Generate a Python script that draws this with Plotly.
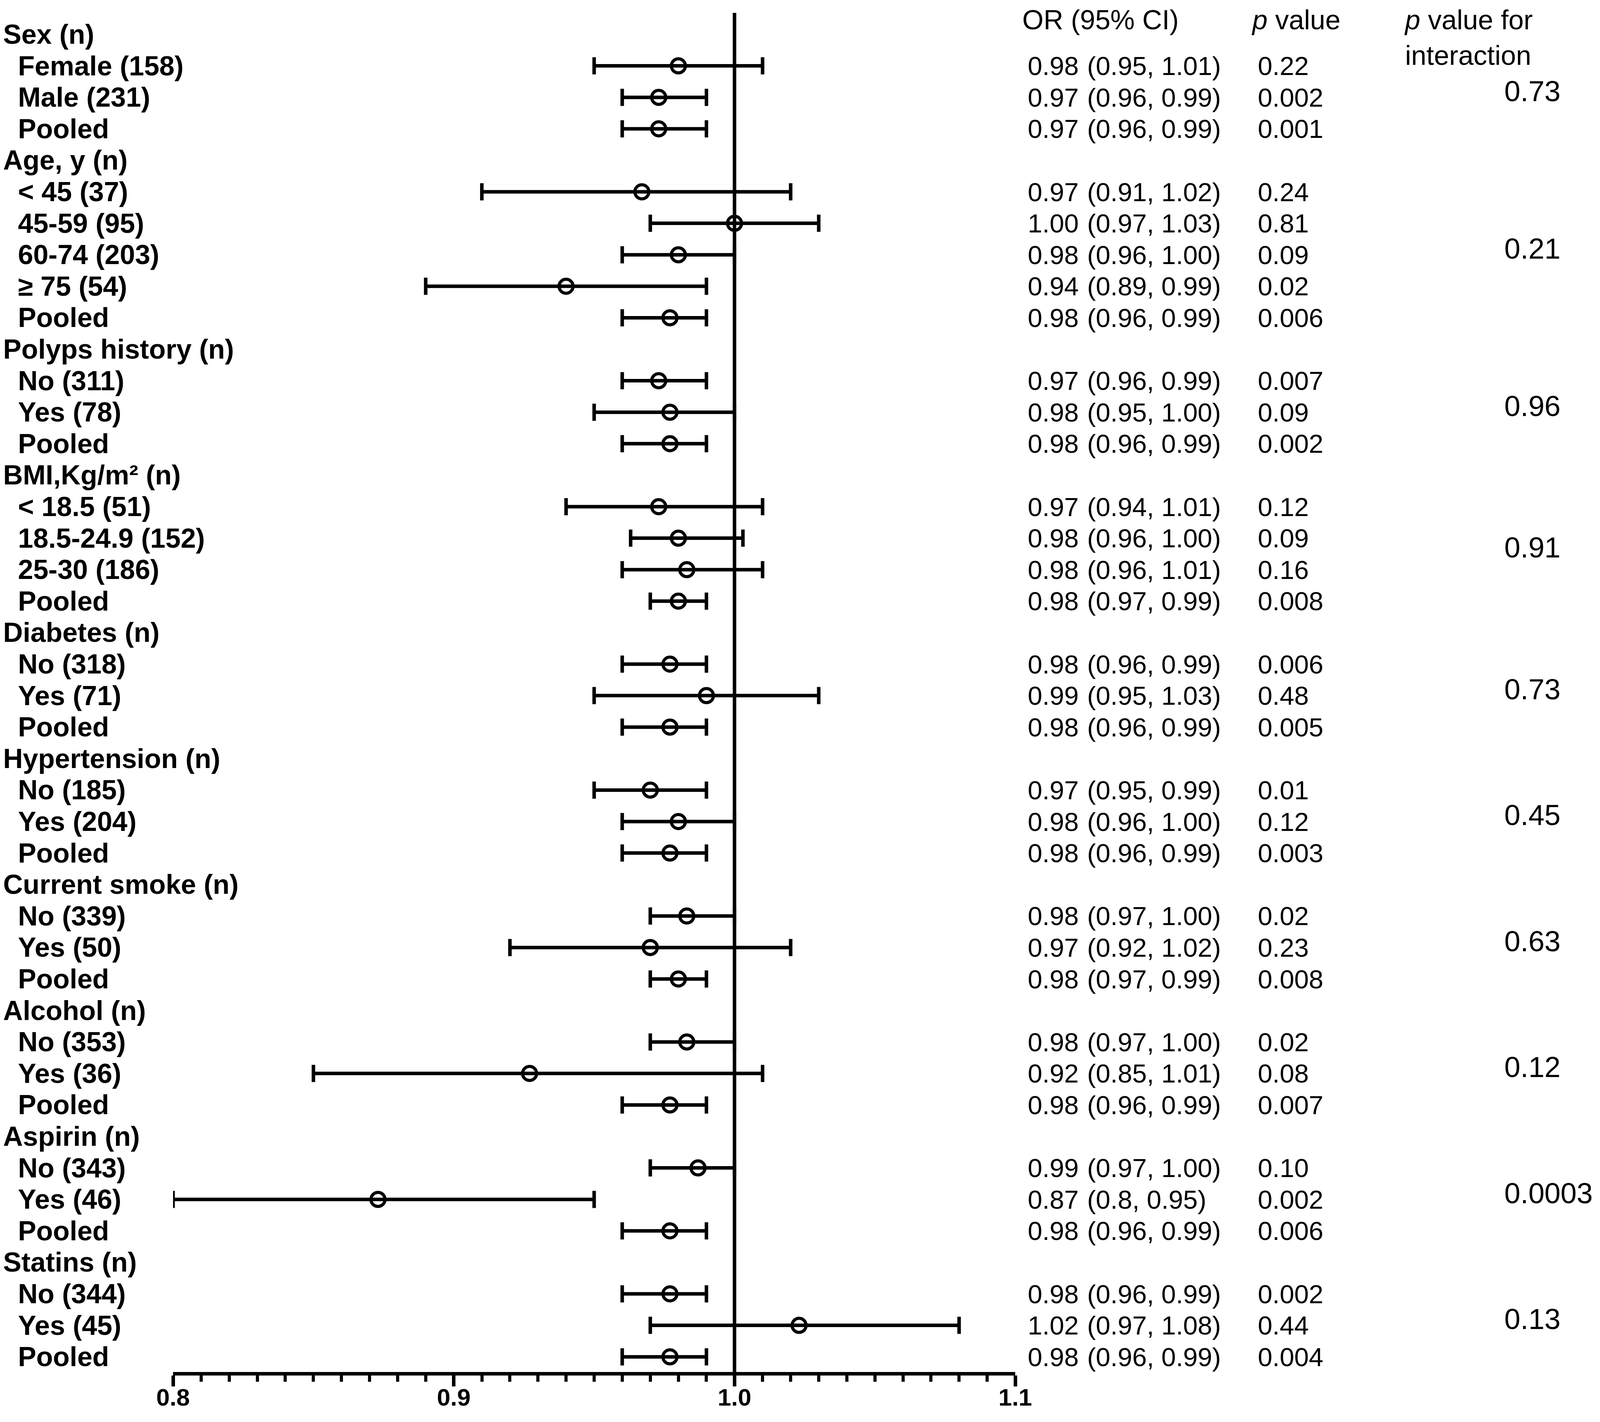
import plotly.graph_objects as go

# subgroups
groups = ["Sex (n)", "Age, y (n)", "Polyps history (n)", "BMI,Kg/m² (n)",
          "Diabetes (n)", "Hypertension (n)", "Current smoke (n)",
          "Alcohol (n)", "Aspirin (n)", "Statins (n)"]

subgroups = [
    ["Female (158)", "Male (231)", "Pooled"],
    ["< 45 (37)", "45-59 (95)", "60-74 (203)", "≥ 75 (54)", "Pooled"],
    ["No (311)", "Yes (78)", "Pooled"],
    ["< 18.5 (51)", "18.5-24.9 (152)", "25-30 (186)", "Pooled"],
    ["No (318)", "Yes (71)", "Pooled"],
    ["No (185)", "Yes (204)", "Pooled"],
    ["No (339)", "Yes (50)", "Pooled"],
    ["No (353)", "Yes (36)", "Pooled"],
    ["No (343)", "Yes (46)", "Pooled"],
    ["No (344)", "Yes (45)", "Pooled"],
]

# plotted odds ratios and 95% CI bounds
or_est = [
    [0.980, 0.973, 0.973],
    [0.967, 1.000, 0.980, 0.940, 0.977],
    [0.973, 0.977, 0.977],
    [0.973, 0.980, 0.983, 0.980],
    [0.977, 0.990, 0.977],
    [0.970, 0.980, 0.977],
    [0.983, 0.970, 0.980],
    [0.983, 0.927, 0.977],
    [0.987, 0.873, 0.977],
    [0.977, 1.023, 0.977],
]
ci_low = [
    [0.95, 0.96, 0.96],
    [0.91, 0.97, 0.96, 0.89, 0.96],
    [0.96, 0.95, 0.96],
    [0.94, 0.963, 0.96, 0.97],
    [0.96, 0.95, 0.96],
    [0.95, 0.96, 0.96],
    [0.97, 0.92, 0.97],
    [0.97, 0.85, 0.96],
    [0.97, 0.80, 0.96],
    [0.96, 0.97, 0.96],
]
ci_high = [
    [1.01, 0.99, 0.99],
    [1.02, 1.03, 1.00, 0.99, 0.99],
    [0.99, 1.00, 0.99],
    [1.01, 1.003, 1.01, 0.99],
    [0.99, 1.03, 0.99],
    [0.99, 1.00, 0.99],
    [1.00, 1.02, 0.99],
    [1.00, 1.01, 0.99],
    [1.00, 0.95, 0.99],
    [0.99, 1.08, 0.99],
]

# table text
or_text = [
    ["0.98", "0.97", "0.97"],
    ["0.97", "1.00", "0.98", "0.94", "0.98"],
    ["0.97", "0.98", "0.98"],
    ["0.97", "0.98", "0.98", "0.98"],
    ["0.98", "0.99", "0.98"],
    ["0.97", "0.98", "0.98"],
    ["0.98", "0.97", "0.98"],
    ["0.98", "0.92", "0.98"],
    ["0.99", "0.87", "0.98"],
    ["0.98", "1.02", "0.98"],
]
ci_text = [
    ["(0.95, 1.01)", "(0.96, 0.99)", "(0.96, 0.99)"],
    ["(0.91, 1.02)", "(0.97, 1.03)", "(0.96, 1.00)", "(0.89, 0.99)", "(0.96, 0.99)"],
    ["(0.96, 0.99)", "(0.95, 1.00)", "(0.96, 0.99)"],
    ["(0.94, 1.01)", "(0.96, 1.00)", "(0.96, 1.01)", "(0.97, 0.99)"],
    ["(0.96, 0.99)", "(0.95, 1.03)", "(0.96, 0.99)"],
    ["(0.95, 0.99)", "(0.96, 1.00)", "(0.96, 0.99)"],
    ["(0.97, 1.00)", "(0.92, 1.02)", "(0.97, 0.99)"],
    ["(0.97, 1.00)", "(0.85, 1.01)", "(0.96, 0.99)"],
    ["(0.97, 1.00)", "(0.8, 0.95)", "(0.96, 0.99)"],
    ["(0.96, 0.99)", "(0.97, 1.08)", "(0.96, 0.99)"],
]
p_text = [
    ["0.22", "0.002", "0.001"],
    ["0.24", "0.81", "0.09", "0.02", "0.006"],
    ["0.007", "0.09", "0.002"],
    ["0.12", "0.09", "0.16", "0.008"],
    ["0.006", "0.48", "0.005"],
    ["0.01", "0.12", "0.003"],
    ["0.02", "0.23", "0.008"],
    ["0.02", "0.08", "0.007"],
    ["0.10", "0.002", "0.006"],
    ["0.002", "0.44", "0.004"],
]
p_interaction = ["0.73", "0.21", "0.96", "0.91", "0.73",
                 "0.45", "0.63", "0.12", "0.0003", "0.13"]

# page geometry, in pixels of the target picture; the html body adds 8px
OFF = 8
W, H = 4317 - 2 * OFF, 3640 - 2 * OFF
x_left, x_right = 443, 2599      # 0.8 and 1.1
y_top, y_axis = 33, 3512         # top of reference line, x axis
L = x_left - OFF
R = W - (x_right - OFF)
T = y_top - OFF
B = H - (y_axis - OFF)
plot_w = x_right - x_left


def px(x):
    return (x - x_left) / plot_w


FONT = "Liberation Sans, Arial, sans-serif"

# build rows
ys, xs, lo, hi = [], [], [], []
annotations = []
row = 0
for g, name in enumerate(groups):
    annotations.append(dict(x=px(6), y=row, xref="paper", yref="y",
                            text="<b>" + name + "</b>", showarrow=False,
                            xanchor="left", yanchor="middle",
                            font=dict(family=FONT, size=70, color="black")))
    row += 1
    first = row
    for i, lab in enumerate(subgroups[g]):
        annotations.append(dict(x=px(44), y=row, xref="paper", yref="y",
                                text="<b>" + lab + "</b>", showarrow=False,
                                xanchor="left", yanchor="middle",
                                font=dict(family=FONT, size=70, color="black")))
        for xp, txt in [(2629, or_text[g][i]), (2781, ci_text[g][i]),
                        (3218, p_text[g][i])]:
            annotations.append(dict(x=px(xp), y=row, xref="paper", yref="y",
                                    text=txt, showarrow=False,
                                    xanchor="left", yanchor="middle",
                                    font=dict(family=FONT, size=67,
                                              color="black")))
        ys.append(row)
        xs.append(or_est[g][i])
        lo.append(or_est[g][i] - ci_low[g][i])
        hi.append(ci_high[g][i] - or_est[g][i])
        row += 1
    annotations.append(dict(x=px(3849), y=(first + row - 1) / 2 - 0.2,
                            xref="paper", yref="y", text=p_interaction[g],
                            showarrow=False, xanchor="left", yanchor="middle",
                            font=dict(family=FONT, size=74, color="black")))

row_h = 80.6
first_row_px = 88
y_min = -(first_row_px - y_top) / row_h
y_max = (y_axis - first_row_px) / row_h

# column headers, kept inside the top and right edges of the page
for xp, txt in [(2615, "OR (95% CI)"), (3202, "<i>p</i> value"),
                (3593, "<i>p</i> value for<br>interaction")]:
    annotations.append(dict(x=px(xp), y=1, xref="paper", yref="paper",
                            text=txt, showarrow=False, xanchor="left",
                            align="left", yanchor="top", yshift=T - 2,
                            font=dict(family=FONT, size=70, color="black")))

fig = go.Figure()
fig.add_trace(go.Scatter(
    x=xs, y=ys, mode="markers",
    marker=dict(symbol="circle-open", size=36, color="black",
                line=dict(color="black", width=8)),
    error_x=dict(type="data", symmetric=False, array=hi, arrayminus=lo,
                 color="black", thickness=9, width=22),
    showlegend=False, cliponaxis=False))

# line of no effect
fig.add_shape(type="line", x0=1.0, x1=1.0, xref="x", y0=0, y1=1,
              yref="paper", line=dict(color="black", width=9), layer="above")

fig.update_xaxes(range=[0.8, 1.1], tick0=0.8, dtick=0.1, tickformat=".1f",
                 showline=True, linewidth=9, linecolor="black",
                 ticks="outside", ticklen=28, tickwidth=9, tickcolor="black",
                 ticklabelstandoff=-25,
                 tickfont=dict(family=FONT, size=62, color="black",
                               weight="bold"),
                 minor=dict(dtick=0.01, tick0=0.8, ticks="outside",
                            ticklen=16, tickwidth=8, tickcolor="black",
                            showgrid=False),
                 showgrid=False, zeroline=False, fixedrange=True)
fig.update_yaxes(range=[y_max, y_min], visible=False, showgrid=False,
                 zeroline=False)

fig.update_layout(width=W, height=H, plot_bgcolor="white",
                  paper_bgcolor="white",
                  margin=dict(l=L, r=R, t=T, b=B, autoexpand=False),
                  annotations=annotations)

fig.write_html("out.html")
